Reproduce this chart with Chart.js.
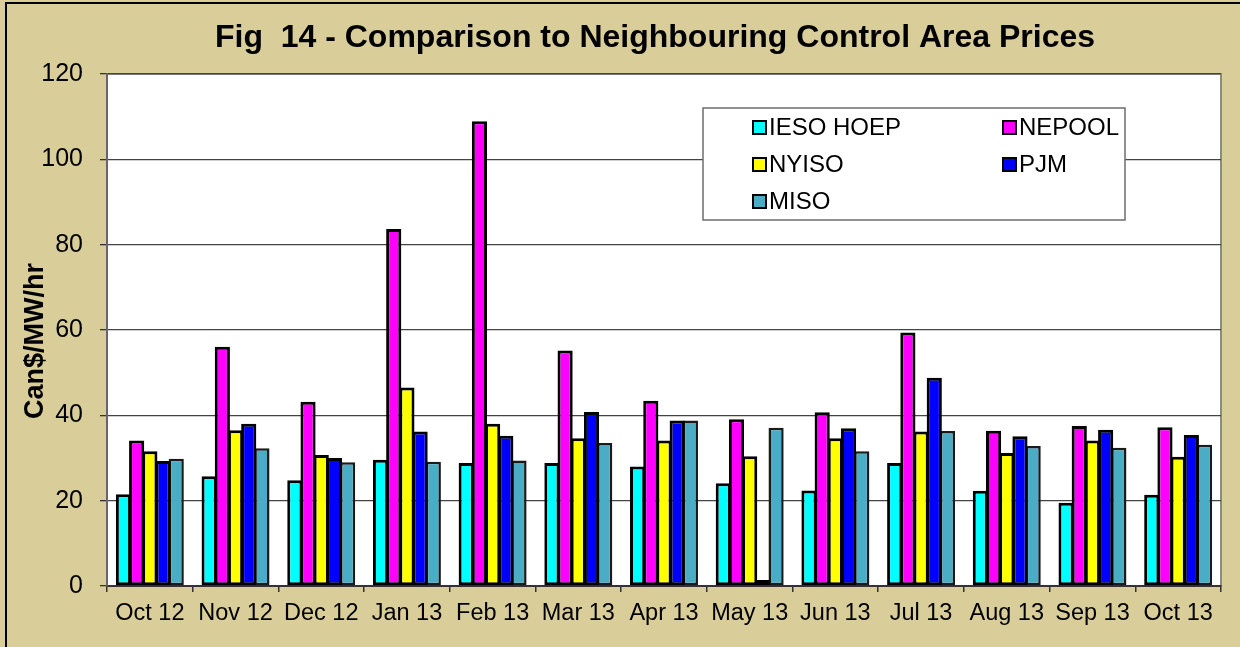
<!DOCTYPE html>
<html>
<head>
<meta charset="utf-8">
<script src="https://cdn.jsdelivr.net/npm/chart.js@4.4.0/dist/chart.umd.min.js"></script>
<style>
  body { margin: 0; background: #D9CE99; }
  canvas { display: block; }
</style>
</head>
<body>
<canvas id="chart" width="1240" height="647"></canvas>
<script>
//--------------------Data-------------------
const months = ["Oct 12", "Nov 12", "Dec 12", "Jan 13", "Feb 13", "Mar 13", "Apr 13",
  "May 13", "Jun 13", "Jul 13", "Aug 13", "Sep 13", "Oct 13"];

const iesoHoep = [21.5, 25.7, 24.8, 29.6, 28.8, 28.8, 28.0, 24.1, 22.4, 28.8, 22.3, 19.5, 21.4];
const nepool = [34.1, 56.1, 43.2, 83.7, 108.9, 55.2, 43.4, 39.1, 40.7, 59.4, 36.4, 37.5, 37.2];
const nyiso = [31.6, 36.5, 30.7, 46.5, 38.0, 34.6, 34.1, 30.4, 34.6, 36.2, 31.2, 34.1, 30.3];
const pjm = [29.3, 38.0, 30.0, 36.2, 35.2, 40.8, 38.8, 1.4, 37.0, 48.8, 35.1, 36.6, 35.4];
const miso = [29.8, 32.3, 29.0, 29.1, 29.4, 33.5, 38.8, 37.1, 31.6, 36.3, 32.8, 32.4, 33.1];

const yTicks = [0, 20, 40, 60, 80, 100, 120];

const titleText = "Fig  14 - Comparison to Neighbouring Control Area Prices";
const yTitle = "Can$/MW/hr";

// ----------------Setup-------------------
const fontFamily = "'Liberation Sans', Arial, Helvetica, sans-serif";
Chart.defaults.font.family = fontFamily;
Chart.defaults.color = "#000";

function makeSet(label, data, color, border, bw) {
  return {
    label: label,
    data: data,
    backgroundColor: color,
    borderColor: border,
    borderWidth: bw,
    borderSkipped: false,
    inflateAmount: 0,
    categoryPercentage: 0.77,
    barPercentage: 1.15
  };
}

// background, frame, plot area and titles
const framePlugin = {
  id: "frame",
  beforeDraw(chart) {
    const { ctx, chartArea: a } = chart;
    ctx.save();
    ctx.fillStyle = "#D9CE99";
    ctx.fillRect(0, 0, chart.width, chart.height);
    ctx.strokeStyle = "#000";
    ctx.lineWidth = 2;
    ctx.strokeRect(6, 3, chart.width + 20, chart.height + 20);
    ctx.fillStyle = "#fff";
    ctx.fillRect(a.left, a.top, a.right - a.left, a.bottom - a.top);
    ctx.strokeStyle = "#8a8a8a";
    ctx.lineWidth = 2;
    ctx.strokeRect(a.left, a.top, a.right - a.left, a.bottom - a.top);
    ctx.restore();
  },
  afterDraw(chart) {
    const { ctx } = chart;
    ctx.save();
    ctx.fillStyle = "#000";
    ctx.font = "bold 32px " + fontFamily;
    ctx.textAlign = "center";
    ctx.textBaseline = "alphabetic";
    ctx.fillText(titleText, 655, 47);

    // y axis title
    ctx.translate(36, 341);
    ctx.rotate(-Math.PI / 2);
    ctx.font = "bold 27px " + fontFamily;
    ctx.textBaseline = "middle";
    ctx.fillText(yTitle, 0, 0);
    ctx.restore();
  }
};

// legend box inside the plot
const boxLegend = {
  id: "boxLegend",
  afterDatasetsDraw(chart) {
    const { ctx } = chart;
    const sets = chart.data.datasets;
    const x0 = 703, y0 = 108, w = 422, h = 112;
    ctx.save();
    ctx.fillStyle = "#fff";
    ctx.fillRect(x0, y0, w, h);
    ctx.strokeStyle = "#6e6e6e";
    ctx.lineWidth = 1.5;
    ctx.strokeRect(x0, y0, w, h);

    const cols = [753, 1003];
    const rows = [127, 164, 201];
    ctx.font = "24px " + fontFamily;
    ctx.textBaseline = "middle";
    ctx.textAlign = "left";
    sets.forEach((ds, i) => {
      const cx = cols[i % 2];
      const cy = rows[Math.floor(i / 2)];
      ctx.fillStyle = ds.backgroundColor;
      ctx.fillRect(cx, cy - 6, 13, 13);
      ctx.strokeStyle = "#000";
      ctx.lineWidth = 2;
      ctx.strokeRect(cx, cy - 6, 13, 13);
      ctx.fillStyle = "#000";
      ctx.fillText(ds.label, cx + 16, cy + 1);
    });
    ctx.restore();
  }
};

const ctx = document.getElementById("chart").getContext("2d");

const chart = new Chart(ctx, {
  type: "bar",
  data: {
    labels: months,
    datasets: [
      makeSet("IESO HOEP", iesoHoep, "#00FFFF", "#000", 3),
      makeSet("NEPOOL", nepool, "#FF00FF", "#000", 3),
      makeSet("NYISO", nyiso, "#FFFF00", "#000", 3),
      makeSet("PJM", pjm, "#0000FF", "#000", 3),
      makeSet("MISO", miso, "#4BACC6", "#1a1a1a", 2.5)
    ]
  },
  options: {
    responsive: false,
    animation: false,
    layout: { padding: { left: 0, right: 19, top: 74, bottom: 0 } },
    plugins: {
      legend: { display: false },
      title: { display: false },
      tooltip: { enabled: false }
    },
    scales: {
      x: {
        grid: {
          offset: true,
          drawOnChartArea: false,
          drawTicks: true,
          tickLength: 6,
          tickColor: "#333",
          lineWidth: 1.5
        },
        border: { display: true, color: "#333", width: 2 },
        ticks: {
          font: { size: 23.5 },
          padding: 7,
          maxRotation: 0,
          autoSkip: false
        },
        afterFit(scale) { scale.height = 61; }
      },
      y: {
        min: 0,
        max: 120,
        afterBuildTicks(scale) {
          scale.ticks = yTicks.map(v => ({ value: v }));
        },
        grid: {
          color: "#444",
          lineWidth: 1.3,
          drawTicks: true,
          tickLength: 7,
          tickColor: "#333"
        },
        border: { display: true, color: "#666", width: 2 },
        ticks: {
          font: { size: 25 },
          padding: 17
        },
        afterFit(scale) { scale.width = 107; }
      }
    }
  },
  plugins: [framePlugin, boxLegend]
});
</script>
</body>
</html>
